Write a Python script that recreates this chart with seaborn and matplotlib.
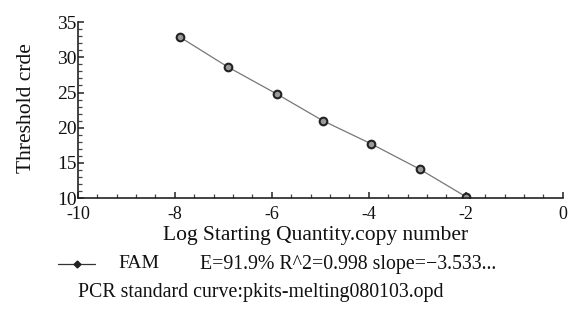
import matplotlib
matplotlib.use("Agg")
import matplotlib.pyplot as plt
import seaborn as sns
import pandas as pd
from matplotlib.ticker import MultipleLocator

log_qty = [-7.9, -6.9, -5.9, -4.95, -3.95, -2.95, -2.0]
ct = [32.9, 28.6, 24.8, 21.0, 17.7, 14.1, 10.2]
series_name = "FAM"
stats_text = "E=91.9% R^2=0.998 slope=\u22123.533..."
x_label = "Log Starting Quantity.copy number"
y_label = "Threshold crde"
footer = "PCR standard curve:pkits-melting080103.opd"

sns.set_theme(style="white")
plt.rcParams['font.family'] = ['Liberation Serif', 'DejaVu Serif']

df = pd.DataFrame({"x": log_qty, "y": ct})

fig = plt.figure(figsize=(5.68, 3.21), dpi=100)
ax = fig.add_axes([0.137, 0.383, 0.854, 0.548])
sns.lineplot(data=df, x="x", y="y", ax=ax, color="#777777", linewidth=0.9,
             marker="o", markersize=5.5, markerfacecolor="#999999",
             markeredgecolor="#222222", markeredgewidth=1.5)

ax.set_xlim(-10, 0)
ax.set_ylim(10, 35)
ax.xaxis.set_major_locator(MultipleLocator(2))
ax.xaxis.set_minor_locator(MultipleLocator(0.4))
ax.yaxis.set_major_locator(MultipleLocator(5))
ax.yaxis.set_minor_locator(MultipleLocator(1))
for s in ["top", "right"]:
    ax.spines[s].set_visible(False)
for s in ["left", "bottom"]:
    ax.spines[s].set_color("#222222")
    ax.spines[s].set_linewidth(1.2)
ax.tick_params(which="major", direction="in", length=4, width=1.1, color="#222222",
               labelsize=14, bottom=True, left=True, labelcolor="#111111")
ax.tick_params(which="minor", direction="in", length=3, width=0.9, color="#444444",
               bottom=True, left=True)
ax.tick_params(axis="y", pad=1)
ax.tick_params(axis="x", pad=6, labelsize=13)
ax.set_xticks(ax.get_xticks())
ax.set_xticklabels([f"{int(v)}".replace("\u2212", "-") for v in ax.get_xticks()])
ax.set_xlim(-10, 0)
ax.set_xlabel(x_label, fontsize=15.5, color="#111111", va="center")
ax.xaxis.set_label_coords(0.49, -0.215)
ax.set_ylabel(y_label, fontsize=15.5, color="#111111", va="center")
ax.yaxis.set_label_coords(-0.105, 0.51)

# legend-like row
ly = 1 - 264 / 321
fig.add_artist(plt.Line2D([0.102, 0.168], [ly, ly], color="#333333", lw=0.9))
fig.add_artist(plt.Line2D([0.135], [ly], marker="D", markersize=3.5,
                          color="#222222", lw=0))
fig.text(0.208, ly, series_name, fontsize=14, va="center", color="#111111")
fig.text(0.352, ly, stats_text, fontsize=14.3, va="center", color="#111111")
fig.text(0.137, 1 - 293 / 321, footer, fontsize=14.3, va="center", color="#111111")

fig.savefig("out.png", dpi=100, facecolor="white")
